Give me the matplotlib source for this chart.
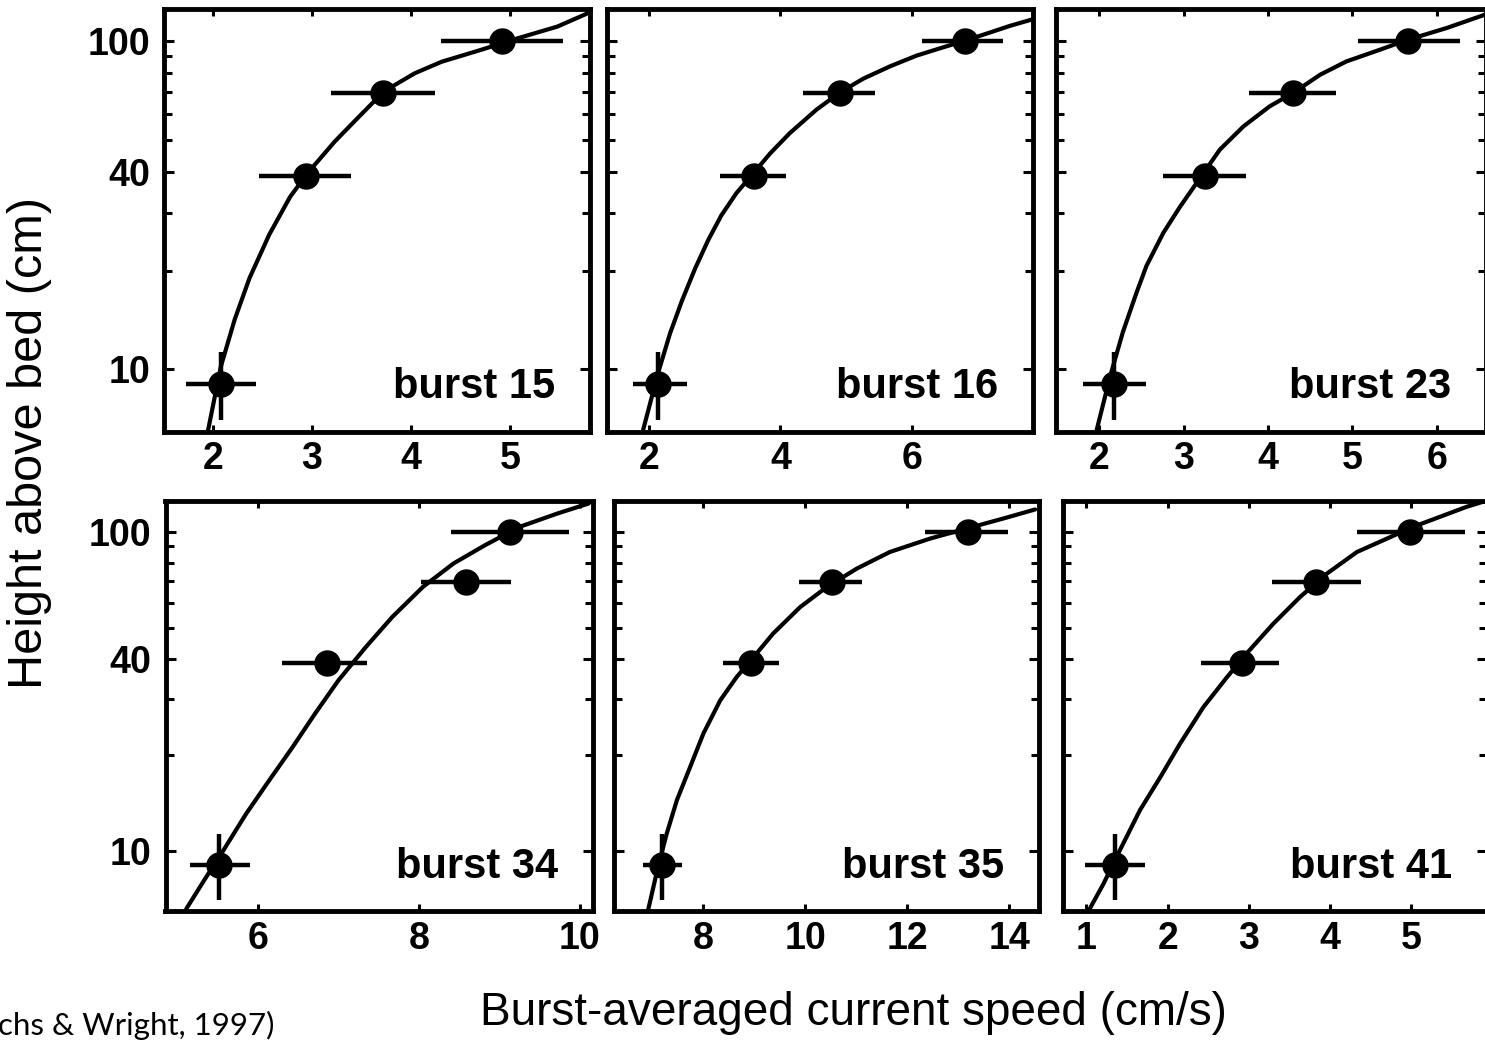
import matplotlib
matplotlib.use('Agg')
import matplotlib.pyplot as plt
from matplotlib.ticker import FixedLocator, NullFormatter, NullLocator
from matplotlib.transforms import ScaledTranslation

# ---------------- data ----------------
burst_names = ['burst 15', 'burst 16', 'burst 23', 'burst 34', 'burst 35', 'burst 41']

# measurement heights above bed (cm)
heights = [9.0, 38.8, 69.8, 100.0]
z_err_lo = [2.0, 0.0, 0.0, 0.0]
z_err_hi = [2.3, 0.0, 0.0, 0.0]

# burst-averaged speeds (cm/s) and horizontal error bars
speed_b15 = [2.08, 2.94, 3.72, 4.92]
xlo_b15 = [0.35, 0.47, 0.53, 0.62]
xhi_b15 = [0.36, 0.45, 0.52, 0.62]

speed_b16 = [2.14, 3.59, 4.90, 6.81]
xlo_b16 = [0.38, 0.51, 0.55, 0.66]
xhi_b16 = [0.43, 0.49, 0.54, 0.58]

speed_b23 = [2.17, 3.25, 4.30, 5.66]
xlo_b23 = [0.36, 0.50, 0.53, 0.59]
xhi_b23 = [0.38, 0.49, 0.51, 0.62]

speed_b34 = [5.52, 6.86, 8.59, 9.13]
xlo_b34 = [0.36, 0.56, 0.56, 0.73]
xhi_b34 = [0.38, 0.49, 0.56, 0.73]

speed_b35 = [7.18, 8.93, 10.53, 13.19]
xlo_b35 = [0.37, 0.55, 0.65, 0.84]
xhi_b35 = [0.39, 0.55, 0.58, 0.79]

speed_b41 = [1.35, 2.91, 3.83, 4.98]
xlo_b41 = [0.37, 0.50, 0.55, 0.65]
xhi_b41 = [0.37, 0.46, 0.55, 0.68]

# fitted profile curves (speed, height)
curve_b15_u = [1.95, 2.08, 2.22, 2.37, 2.57, 2.78, 2.96, 3.23, 3.50, 3.73, 4.04, 4.31, 4.71, 5.02, 5.48, 5.79]
curve_b15_z = [6.5, 10.2, 14.2, 19.0, 25.8, 33.6, 39.8, 49.5, 60.0, 70.5, 80.0, 86.7, 94.3, 101.0, 111.0, 122.0]

curve_b16_u = [1.91, 2.14, 2.32, 2.50, 2.70, 2.90, 3.10, 3.33, 3.59, 3.84, 4.14, 4.55, 4.91, 5.26, 5.67, 6.07, 6.48, 6.81, 7.19, 7.49, 7.85]
curve_b16_z = [6.55, 9.8, 12.9, 16.2, 20.3, 24.8, 29.5, 34.5, 39.7, 45.5, 52.5, 62.0, 70.0, 77.0, 84.0, 90.5, 96.0, 100.5, 106.5, 111.5, 117.0]

curve_b23_u = [1.97, 2.13, 2.28, 2.44, 2.56, 2.76, 2.96, 3.23, 3.43, 3.71, 4.02, 4.30, 4.62, 4.93, 5.33, 5.66, 6.12, 6.57]
curve_b23_z = [6.55, 9.55, 13.0, 17.1, 20.7, 26.1, 31.4, 39.5, 46.8, 55.1, 63.4, 69.7, 79.2, 86.9, 94.4, 101.2, 109.9, 120.6]

curve_b34_u = [5.11, 5.33, 5.57, 5.85, 6.14, 6.43, 6.71, 7.00, 7.34, 7.67, 8.05, 8.43, 8.82, 9.25, 9.72, 10.11]
curve_b34_z = [6.56, 8.05, 10.0, 13.0, 16.6, 21.1, 26.9, 34.2, 43.5, 54.1, 67.2, 79.6, 90.8, 103.7, 114.2, 122.8]

curve_b35_u = [6.92, 7.11, 7.28, 7.48, 7.74, 8.00, 8.33, 8.65, 8.98, 9.37, 9.90, 10.42, 11.01, 11.66, 12.45, 13.17, 13.89, 14.51]
curve_b35_z = [6.56, 8.9, 11.3, 14.4, 18.3, 23.3, 29.6, 35.0, 40.4, 48.0, 58.1, 67.1, 76.7, 86.5, 95.3, 102.5, 110.2, 117.6]

curve_b41_u = [1.04, 1.21, 1.41, 1.66, 1.91, 2.15, 2.44, 2.73, 2.97, 3.30, 3.63, 3.96, 4.33, 4.70, 5.02, 5.35, 5.68, 5.91]
curve_b41_z = [6.56, 7.86, 10.0, 13.4, 17.0, 21.6, 28.2, 35.0, 41.5, 51.5, 62.5, 74.0, 86.5, 95.3, 103.7, 111.5, 119.9, 125.0]

# tick values
xticks_b15 = [2, 3, 4, 5]
xticks_b16 = [2, 4, 6]
xticks_b23 = [2, 3, 4, 5, 6]
xticks_b34 = [6, 8, 10]
xticks_b35 = [8, 10, 12, 14]
xticks_b41 = [1, 2, 3, 4, 5]
yticks_major = [10, 40, 100]
yticks_minor = [20, 30, 50, 60, 70, 80, 90]

speeds = [speed_b15, speed_b16, speed_b23, speed_b34, speed_b35, speed_b41]
xlos = [xlo_b15, xlo_b16, xlo_b23, xlo_b34, xlo_b35, xlo_b41]
xhis = [xhi_b15, xhi_b16, xhi_b23, xhi_b34, xhi_b35, xhi_b41]
curves_u = [curve_b15_u, curve_b16_u, curve_b23_u, curve_b34_u, curve_b35_u, curve_b41_u]
curves_z = [curve_b15_z, curve_b16_z, curve_b23_z, curve_b34_z, curve_b35_z, curve_b41_z]
xticks_all = [xticks_b15, xticks_b16, xticks_b23, xticks_b34, xticks_b35, xticks_b41]

# ---------------- layout ----------------
W, H = 1485, 1040
fig = plt.figure(figsize=(W / 100, H / 100), dpi=100)
fig.patch.set_facecolor('white')

# pixel boxes (left, right, top, bottom) of each panel
boxes = [
    (164.0, 590.4, 9.3, 431.7),
    (607.3, 1033.3, 9.3, 431.7),
    (1056.0, 1486.0, 9.3, 431.7),
    (165.5, 593.0, 500.7, 911.0),
    (614.0, 1038.8, 500.7, 911.0),
    (1063.0, 1487.0, 500.7, 911.0),
]
xlims = [(1.506, 5.813), (1.364, 7.848), (1.487, 6.585),
         (4.852, 10.163), (6.245, 14.583), (0.712, 5.93)]
ylim = (6.46, 125.3)

tick_font = dict(family='Liberation Sans', size=27, weight='bold')
lab_font = dict(family='Liberation Sans')

for i in range(6):
    l, r, t, b = boxes[i]
    ax = fig.add_axes([l / W, 1 - b / H, (r - l) / W, (b - t) / H])
    ax.set_yscale('log')
    ax.set_xlim(*xlims[i])
    ax.set_ylim(*ylim)

    ax.plot(curves_u[i], curves_z[i], color='black', lw=3.0, solid_capstyle='round',
            solid_joinstyle='round', zorder=2)
    ax.errorbar(speeds[i], heights,
                xerr=[xlos[i], xhis[i]], yerr=[z_err_lo, z_err_hi],
                fmt='o', color='black', ms=18, elinewidth=3.2, capsize=0, zorder=3)

    for s in ax.spines.values():
        s.set_linewidth(3.5)
    ax.xaxis.set_major_locator(FixedLocator(xticks_all[i]))
    ax.xaxis.set_minor_locator(NullLocator())
    ax.yaxis.set_major_locator(FixedLocator(yticks_major))
    ax.yaxis.set_minor_locator(FixedLocator(yticks_minor))
    ax.yaxis.set_minor_formatter(NullFormatter())
    ax.tick_params(axis='both', which='both', direction='in', top=True, right=True,
                   width=2.2, color='black')
    ax.tick_params(axis='x', which='major', length=5, pad=7)
    ax.tick_params(axis='y', which='major', length=7, pad=10)
    ax.tick_params(axis='y', which='minor', length=6)
    ax.set_xticklabels([str(v) for v in xticks_all[i]], fontdict=tick_font)
    if i in (0, 3):
        ax.set_yticklabels([str(v) for v in yticks_major], fontdict=tick_font)
    else:
        ax.yaxis.set_major_formatter(NullFormatter())

    off = ScaledTranslation(-0.35, 0.335, fig.dpi_scale_trans)
    ax.text(1, 0, burst_names[i], transform=ax.transAxes + off, ha='right', va='baseline',
            family='Liberation Sans', size=30, weight='bold')

fig.text(30 / W, 1 - 443 / H, 'Height above bed (cm)', rotation=90, ha='center', va='center',
         size=35, **lab_font)
fig.text(853 / W, 1 - 1025 / H, 'Burst-averaged current speed (cm/s)', ha='center',
         va='baseline', size=33, **lab_font)
fig.text(-2 / W, 1 - 1035 / H, 'chs & Wright, 1997)', ha='left', va='baseline',
         family='Lato', size=22.5)

fig.savefig('out.png', dpi=100, facecolor='white')
